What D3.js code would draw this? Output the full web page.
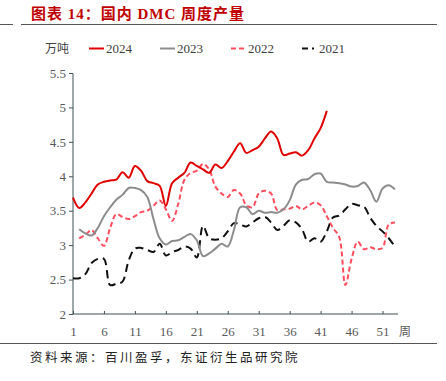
<!DOCTYPE html>
<html><head><meta charset="utf-8">
<script src="https://cdn.jsdelivr.net/npm/d3@7"></script>
<style>body{margin:0;background:#fff}svg{display:block}</style>
</head><body>
<svg id="c" width="446" height="381"></svg>
<script>
const weeks = d3.range(1, 54);
const xTicks = [1, 6, 11, 16, 21, 26, 31, 36, 41, 46, 51];
const yTicks = [2, 2.5, 3, 3.5, 4, 4.5, 5, 5.5];
const seriesNames = ["2024", "2023", "2022", "2021"];
const s2024 = [3.69,3.54,3.62,3.75,3.88,3.92,3.94,3.95,4.06,3.98,4.15,4.08,3.93,3.9,3.86,3.57,3.9,3.98,4.05,4.2,4.15,4.1,4.05,4.17,4.12,4.22,4.36,4.48,4.34,4.38,4.43,4.55,4.65,4.55,4.31,4.33,4.35,4.3,4.38,4.55,4.7,4.95];
const s2023 = [null,3.23,3.17,3.14,3.25,3.42,3.55,3.66,3.73,3.83,3.83,3.8,3.7,3.38,3.1,3.01,3.06,3.07,3.12,3.16,3.07,2.84,2.88,2.95,3.02,2.98,3.22,3.55,3.55,3.45,3.5,3.47,3.48,3.47,3.52,3.65,3.88,3.95,3.96,4.03,4.04,3.92,3.91,3.9,3.88,3.85,3.86,3.91,3.8,3.63,3.82,3.87,3.81];
const s2022 = [null,3.1,3.15,3.22,3.1,2.99,3.25,3.45,3.41,3.38,3.42,3.48,3.5,3.57,3.65,3.52,3.35,3.6,3.95,4.05,4.08,4.18,4.1,3.85,3.75,3.7,3.8,3.75,3.58,3.55,3.75,3.79,3.75,3.51,3.52,3.53,3.57,3.52,3.57,3.62,3.58,3.42,3.25,3.12,2.42,2.8,3.05,2.94,2.97,2.94,2.96,3.3,3.33];
const s2021 = [2.52,2.52,2.58,2.74,2.8,2.8,2.42,2.44,2.47,2.78,2.95,2.96,2.93,2.9,3.02,2.85,2.9,2.93,2.98,2.95,2.82,3.28,3.1,3.08,3.1,3.2,3.32,3.3,3.27,3.33,3.39,3.41,3.33,3.22,3.28,3.36,3.33,3.23,3.05,3.1,3.05,3.2,3.4,3.43,3.52,3.6,3.58,3.56,3.4,3.28,3.2,3.1,2.98];

const styles = {
  "2024": {color: "#E00000", dash: null, legendDash: null},
  "2023": {color: "#8C8C8C", dash: null, legendDash: null},
  "2022": {color: "#FF4D5E", dash: "5,3", legendDash: "5,3"},
  "2021": {color: "#111111", dash: "8,5", legendDash: "6,4,2,5"}
};
const dataMap = {"2024": s2024, "2023": s2023, "2022": s2022, "2021": s2021};

const svg = d3.select("#c");
const serif = "'Liberation Serif','Times New Roman','Noto Sans CJK SC',serif";
const cjk = "'Noto Sans CJK SC',sans-serif";

// Title
svg.append("text").attr("x", 31).attr("y", 19)
  .attr("font-family", "'Liberation Serif','Noto Sans CJK SC',serif")
  .attr("font-weight", "bold").attr("font-size", 15).attr("fill", "#C00000")
  .attr("letter-spacing", 1)
  .text("图表 14：国内 DMC 周度产量");
svg.append("line").attr("x1", 0).attr("x2", 13).attr("y1", 24.5).attr("y2", 24.5).attr("stroke", "#555").attr("stroke-width", 1);
svg.append("line").attr("x1", 21).attr("x2", 437).attr("y1", 24.5).attr("y2", 24.5).attr("stroke", "#555").attr("stroke-width", 1);

const x = d3.scaleLinear().domain([1, 53.5]).range([73, 398]);
const y = d3.scaleLinear().domain([2, 5.5]).range([314, 73]);

// Axes
const yAxis = d3.axisLeft(y).tickValues(yTicks).tickSize(4).tickFormat(d3.format("~g"));
const gy = svg.append("g").attr("transform", "translate(73,0)").call(yAxis);
gy.select(".domain").attr("stroke", "#3f5050").attr("d", "M-4,73.5H0V314");
gy.selectAll(".tick line").attr("stroke", "#3f5050");
gy.selectAll(".tick text").attr("font-family", serif).attr("font-size", 13).attr("fill", "#595959").attr("x", -7);

const xAxis = d3.axisBottom(x).tickValues(xTicks).tickSize(0).tickFormat(d3.format("d"));
const gx = svg.append("g").attr("transform", "translate(0,314)").call(xAxis);
gx.select(".domain").attr("stroke", "#3f5050").attr("d", "M73,0H398");
gx.selectAll(".tick").append("line").attr("y1", 0).attr("y2", -3).attr("stroke", "#3f5050");
gx.selectAll(".tick text").attr("font-family", serif).attr("font-size", 13).attr("fill", "#595959").attr("dy", null).attr("y", 22);
svg.append("text").attr("x", 405).attr("y", 336).attr("text-anchor", "middle")
  .attr("font-family", cjk).attr("font-size", 12).attr("fill", "#595959").text("周");

// Lines
const line = d3.line()
  .defined(d => d[1] != null)
  .x(d => x(d[0])).y(d => y(d[1]))
  .curve(d3.curveCatmullRom.alpha(0.5));

["2021", "2022", "2023", "2024"].forEach(name => {
  const vals = dataMap[name];
  const pts = vals.map((v, i) => [weeks[i], v]);
  svg.append("path").datum(pts)
    .attr("d", line)
    .attr("fill", "none")
    .attr("stroke", styles[name].color)
    .attr("stroke-width", 2)
    .attr("stroke-dasharray", styles[name].dash);
});

// Legend
svg.append("text").attr("x", 45).attr("y", 53).attr("font-family", cjk).attr("font-size", 12).attr("fill", "#404040").text("万吨");
const legendX = [89, 160, 231, 302];
seriesNames.forEach((name, i) => {
  const lx = legendX[i];
  svg.append("line").attr("x1", lx).attr("x2", lx + 15).attr("y1", 48.5).attr("y2", 48.5)
    .attr("stroke", styles[name].color).attr("stroke-width", 2)
    .attr("stroke-dasharray", styles[name].legendDash);
  svg.append("text").attr("x", lx + 17).attr("y", 53).attr("font-family", serif).attr("font-size", 13).attr("fill", "#404040").text(name);
});

// Footer
svg.append("line").attr("x1", 0).attr("x2", 437).attr("y1", 343.5).attr("y2", 343.5).attr("stroke", "#555").attr("stroke-width", 1);
svg.append("text").attr("x", 30).attr("y", 362).attr("font-family", cjk).attr("font-size", 12.5).attr("fill", "#222")
  .attr("letter-spacing", 2.5)
  .text("资料来源：百川盈孚，东证衍生品研究院");
</script>
</body></html>
